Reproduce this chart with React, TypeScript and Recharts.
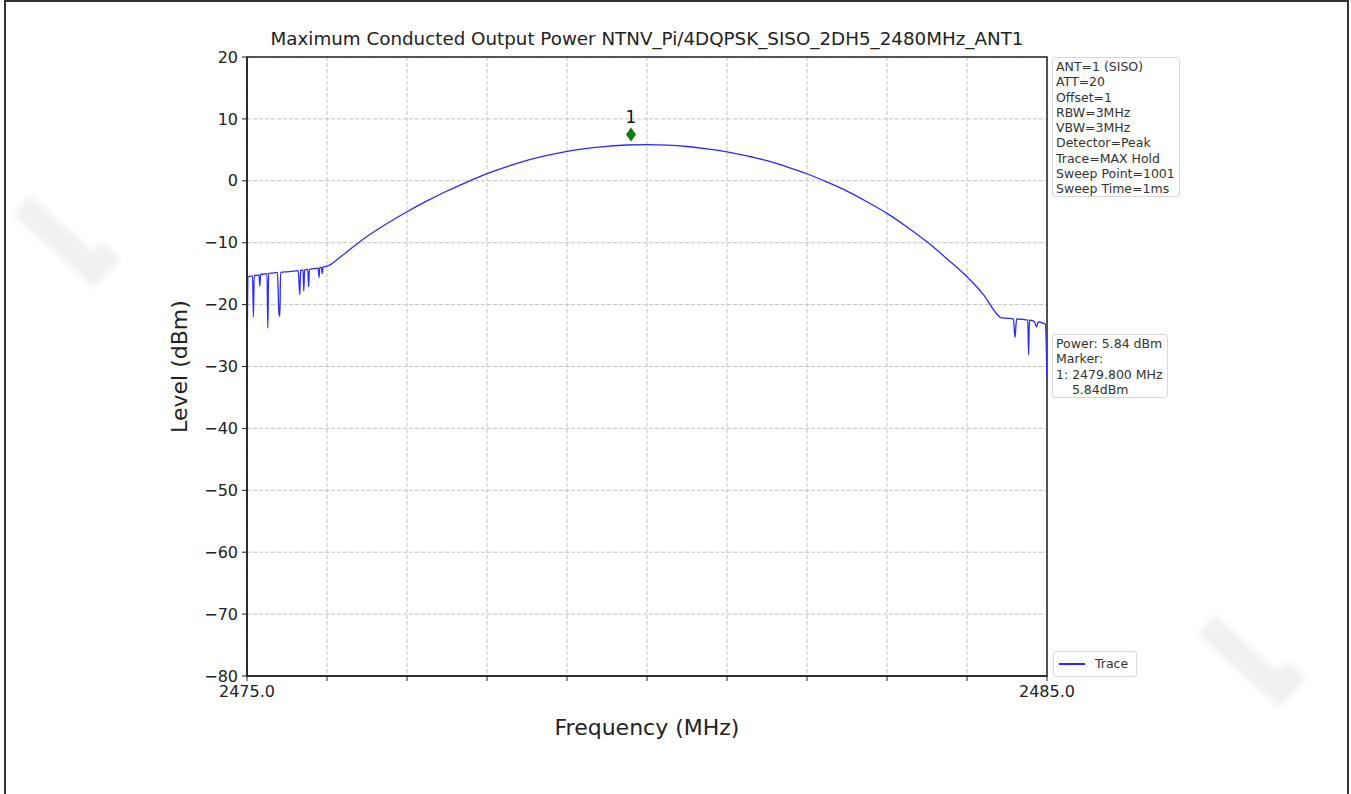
import { ComposedChart, Line, Scatter, XAxis, YAxis, CartesianGrid, ReferenceArea, Label } from 'recharts'

// spectrum trace (MHz / dBm)
const traceFreq = [
  2475.0, 2475.01, 2475.05, 2475.07, 2475.08, 2475.09, 2475.12, 2475.15, 2475.16, 2475.17,
  2475.2, 2475.25, 2475.26, 2475.27, 2475.32, 2475.38, 2475.4, 2475.41, 2475.42, 2475.5,
  2475.58, 2475.64, 2475.66, 2475.67, 2475.7, 2475.71, 2475.72, 2475.76, 2475.77, 2475.78,
  2475.84, 2475.89, 2475.9, 2475.91, 2475.93, 2475.94, 2475.95, 2476.0, 2476.05,
  2476.1, 2476.25, 2476.5, 2476.75, 2477.0, 2477.25, 2477.5, 2477.75, 2478.0, 2478.25, 2478.5,
  2478.75, 2479.0, 2479.25, 2479.5, 2479.75, 2480.0, 2480.25, 2480.5, 2480.75, 2481.0,
  2481.25, 2481.5, 2481.75, 2482.0, 2482.25, 2482.5, 2482.75, 2483.0, 2483.25, 2483.5,
  2483.75, 2484.0, 2484.2, 2484.4, 2484.42, 2484.5, 2484.58, 2484.6, 2484.62, 2484.7,
  2484.76, 2484.77, 2484.78, 2484.84, 2484.87, 2484.89, 2484.95, 2484.98, 2485.0,
]
const traceLevel = [
  -30.0, -15.5, -15.4, -15.4, -22.0, -15.3, -15.3, -15.2, -17.0, -15.1,
  -15.1, -15.0, -23.8, -15.0, -14.9, -14.8, -21.5, -21.9, -14.8, -14.7,
  -14.6, -14.5, -18.4, -14.5, -14.4, -17.8, -14.4, -14.3, -17.1, -14.3,
  -14.2, -14.1, -15.6, -14.0, -14.0, -15.0, -13.9, -13.8, -13.5,
  -13.0, -11.45, -9.0, -6.9, -5.0, -3.25, -1.65, -0.2, 1.15, 2.3, 3.3,
  4.1, 4.75, 5.25, 5.57, 5.78, 5.84, 5.76, 5.54, 5.17, 4.69,
  4.02, 3.24, 2.26, 1.14, -0.2, -1.66, -3.38, -5.26, -7.45, -9.86,
  -12.6, -15.5, -18.3, -21.9, -22.1, -22.2, -22.3, -25.3, -22.3, -22.4,
  -22.5, -28.1, -22.5, -22.7, -23.6, -22.8, -23.0, -23.2, -32.2,
]

const markerFreq = [2479.8]
const markerLevel = [7.5]
const markerName = ['1']

const xTicks = [2475, 2476, 2477, 2478, 2479, 2480, 2481, 2482, 2483, 2484, 2485]
const xLabelled = [2475, 2485]
const yTicks = [-80, -70, -60, -50, -40, -30, -20, -10, 0, 10, 20]

const settingsLines = [
  'ANT=1 (SISO)', 'ATT=20', 'Offset=1', 'RBW=3MHz', 'VBW=3MHz',
  'Detector=Peak', 'Trace=MAX Hold', 'Sweep Point=1001', 'Sweep Time=1ms',
]
const resultLines = ['Power: 5.84 dBm', 'Marker:', '1: 2479.800 MHz', '    5.84dBm']

const traceData = traceFreq.map((f, i) => ({ f, level: traceLevel[i] }))
const markerData = markerFreq.map((f, i) => ({ f, level: markerLevel[i], name: markerName[i] }))

const FONT = '"DejaVu Sans", sans-serif'
const TRACE = '#2a2aff'

const Diamond = (props: any) => {
  const { cx, cy, payload } = props
  return (
    <g>
      <polygon points={`${cx},${cy - 7} ${cx + 5},${cy} ${cx},${cy + 7} ${cx - 5},${cy}`} fill="#0a7d0a" />
      <text x={cx} y={cy - 11} textAnchor="middle" fontSize={17} fontFamily={FONT} fill="#111">{payload.name}</text>
    </g>
  )
}

const boxStyle: React.CSSProperties = {
  position: 'absolute',
  border: '1px solid #d8d8d8',
  borderRadius: 3,
  background: '#fff',
  fontFamily: FONT,
  fontSize: 12.5,
  lineHeight: '15.3px',
  color: '#333',
  padding: '1px 3px 1px 3px',
  whiteSpace: 'pre',
}

// faint watermark strokes in the page corners
const Watermark = ({ left, top, rot }: { left: number; top: number; rot: number }) => (
  <div style={{ position: 'absolute', left, top, transform: `rotate(${rot}deg)`, transformOrigin: '0 0', filter: 'blur(3px)' }}>
    <div style={{ width: 110, height: 26, background: '#f1f1f1', borderRadius: 4 }} />
    <div style={{ width: 26, height: 40, background: '#f1f1f1', borderRadius: 4, marginLeft: 84, marginTop: -40 }} />
  </div>
)

export default function App() {
  return (
    <div style={{ position: 'fixed', left: 0, top: 0, width: 1351, height: 794, background: '#fff', overflow: 'hidden' }}>
      <Watermark left={30} top={195} rot={42} />
      <Watermark left={1215} top={615} rot={42} />
      <div style={{ position: 'absolute', left: 4, top: 0, width: 1345, height: 800, border: '2px solid #333', boxSizing: 'border-box' }} />
      <div style={{
        position: 'absolute', left: 147, width: 1000, top: 28, textAlign: 'center',
        fontFamily: FONT, fontSize: 18.3, color: '#222',
      }}>
        Maximum Conducted Output Power NTNV_Pi/4DQPSK_SISO_2DH5_2480MHz_ANT1
      </div>
      <ComposedChart
        width={1351}
        height={794}
        margin={{ top: 57, right: 304, bottom: 88, left: 187 }}
        style={{ position: 'absolute', left: 0, top: 0 }}
      >
        <CartesianGrid stroke="#b4b4b4" strokeDasharray="4 2" strokeWidth={0.8} />
        <XAxis
          type="number"
          dataKey="f"
          domain={[2475, 2485]}
          ticks={xTicks}
          allowDataOverflow
          height={30}
          tickSize={5}
          tickMargin={5}
          tickFormatter={(v: number) => (xLabelled.includes(v) ? v.toFixed(1) : '')}
          tick={{ fontFamily: FONT, fontSize: 16, fill: '#222' }}
          axisLine={{ stroke: '#222', strokeWidth: 1.5 }}
          tickLine={{ stroke: '#222' }}
        >
          <Label value="Frequency (MHz)" position="bottom" offset={13} style={{ fontFamily: FONT, fontSize: 22, fill: '#222' }} />
        </XAxis>
        <YAxis
          type="number"
          dataKey="level"
          domain={[-80, 20]}
          ticks={yTicks}
          allowDataOverflow
          width={60}
          tickSize={5}
          tickMargin={4}
          tickFormatter={(v: number) => (v < 0 ? '\u2212' + Math.abs(v) : String(v))}
          tick={{ fontFamily: FONT, fontSize: 16, fill: '#222' }}
          axisLine={{ stroke: '#222', strokeWidth: 1.5 }}
          tickLine={{ stroke: '#222' }}
        >
          <Label value="Level (dBm)" angle={-90} position="left" offset={8} style={{ fontFamily: FONT, fontSize: 22, fill: '#222', textAnchor: 'middle' }} />
        </YAxis>
        <Line
          data={traceData}
          dataKey="level"
          type="monotone"
          stroke={TRACE}
          strokeWidth={1.3}
          dot={false}
          isAnimationActive={false}
        />
        <Scatter data={markerData} dataKey="level" shape={Diamond} isAnimationActive={false} />
        <ReferenceArea x1={2475} x2={2485} y1={-80} y2={20} fill="none" stroke="#222" strokeWidth={1.5} />
      </ComposedChart>
      <div style={{ ...boxStyle, left: 1052, top: 57, width: 120, height: 136 }}>
        {settingsLines.join('\n')}
      </div>
      <div style={{ ...boxStyle, left: 1052, top: 334, width: 108, height: 60 }}>
        {resultLines.join('\n')}
      </div>
      <div style={{ ...boxStyle, left: 1053, top: 651, width: 76, height: 22, display: 'flex', alignItems: 'center' }}>
        <span style={{ display: 'inline-block', width: 26, height: 2, background: TRACE, marginLeft: 2, marginRight: 10 }} />
        <span>Trace</span>
      </div>
    </div>
  )
}
